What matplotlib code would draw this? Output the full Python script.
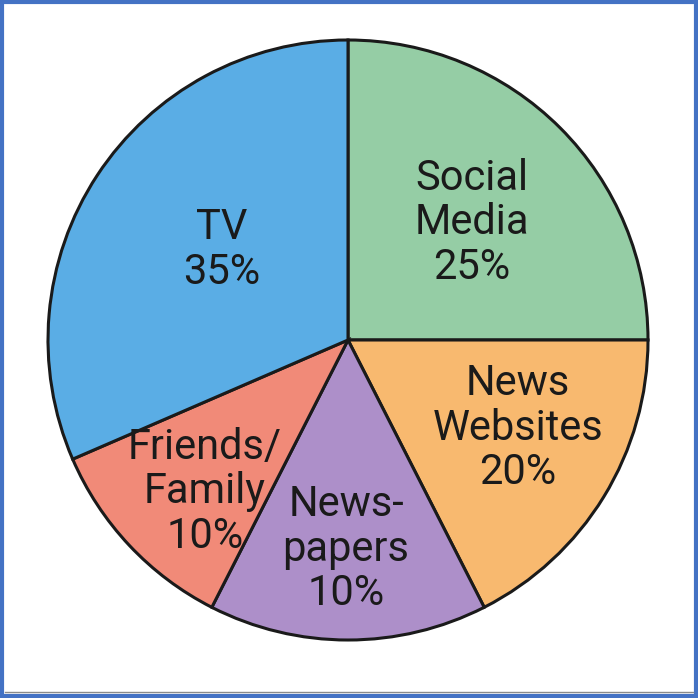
import matplotlib
matplotlib.use("Agg")
import matplotlib.pyplot as plt
from matplotlib.patches import Rectangle

categories = ["Social\nMedia", "News\nWebsites", "News-\npapers", "Friends/\nFamily", "TV"]
percent_labels = ["25%", "20%", "10%", "10%", "35%"]
# angular shares as drawn in the picture (degrees of the circle, as percent)
slice_shares = [25.0, 17.5, 15.0, 11.0, 31.5]
colors = ["#95CDA5", "#F8B96F", "#AD8FC9", "#F18A78", "#5AADE5"]

W = H = 698
fig = plt.figure(figsize=(W / 100, H / 100), dpi=100)
ax = fig.add_axes([0, 0, 1, 1])

cx, cy, r = 348, H - 340, 300
ax.pie(slice_shares, colors=colors, startangle=90, counterclock=False,
       center=(cx, cy), radius=r, frame=True,
       wedgeprops=dict(edgecolor="#1a1a1a", linewidth=2.2))
ax.set_xlim(0, W)
ax.set_ylim(0, H)
ax.set_aspect("equal")
ax.axis("off")

# label block centres (pixels from top)
label_pos = [(472, 223), (518, 428), (346, 549), (205, 492), (222, 250)]
for cat, pct, (x, y) in zip(categories, percent_labels, label_pos):
    ax.text(x, H - y, f"{cat}\n{pct}", ha="center", va="center",
            fontsize=30, family="Roboto", color="#1a1a1a", linespacing=1.1)

fig.patches.append(Rectangle((2 / W, 2 / H), 1 - 4 / W, 1 - 4 / H,
                             transform=fig.transFigure, fill=False,
                             edgecolor="#4472C4", linewidth=3.0))
fig.lines.append(plt.Line2D([5 / W, 1 - 5 / W], [6 / H, 6 / H],
                            transform=fig.transFigure, color="#8a8a8a", linewidth=1.0))

fig.savefig("out.png", dpi=100, facecolor="white")
